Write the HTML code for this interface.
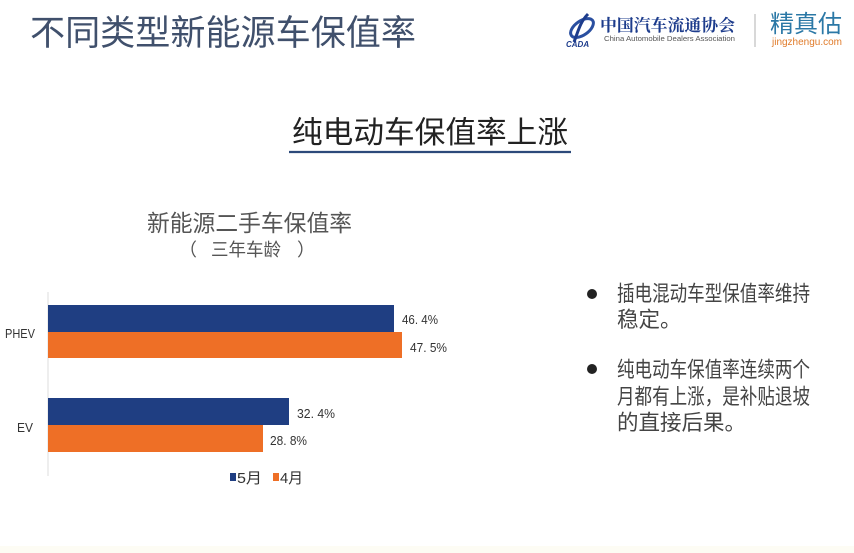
<!DOCTYPE html>
<html>
<head>
<meta charset="utf-8">
<style>
  html, body { margin:0; padding:0; background:#ffffff; }
  body { width:854px; height:553px; overflow:hidden; }
  svg { display:block; }
  .cjk { font-family: "Liberation Sans", "Noto Sans CJK SC", sans-serif; }
</style>
</head>
<body>
<svg width="854" height="553" viewBox="0 0 854 553" xmlns="http://www.w3.org/2000/svg">
  <rect x="0" y="0" width="854" height="553" fill="#ffffff"/>

  <!-- Main title -->
  <text x="30" y="45" class="cjk" font-size="35" fill="#40506c" textLength="386" lengthAdjust="spacingAndGlyphs">不同类型新能源车保值率</text>

  <!-- Logo: CADA -->
  <g>
    <ellipse cx="582" cy="28" rx="13" ry="7" fill="none" stroke="#2a4fa0" stroke-width="3" transform="rotate(-35 582 28)"/>
    <path d="M588 14 C 580 22, 578 32, 574 42" fill="none" stroke="#1d3c8c" stroke-width="3"/>
    <text x="566" y="47" font-family="Liberation Sans, sans-serif" font-size="8" font-style="italic" font-weight="bold" fill="#1d3c8c">CADA</text>
  </g>
  <text x="600" y="31" font-family="'Liberation Serif', 'Noto Serif CJK SC', serif" font-size="16.5" font-weight="bold" fill="#1d3c8c" textLength="135" lengthAdjust="spacingAndGlyphs">中国汽车流通协会</text>
  <text x="604" y="41" font-family="Liberation Sans, sans-serif" font-size="7" fill="#555" textLength="131" lengthAdjust="spacingAndGlyphs">China Automobile Dealers Association</text>
  <line x1="755" y1="14" x2="755" y2="47" stroke="#bdbdbd" stroke-width="1.2"/>
  <text x="770" y="32" class="cjk" font-size="24" fill="#2b78a6" textLength="72" lengthAdjust="spacingAndGlyphs">精真估</text>
  <text x="772" y="45" font-family="Liberation Sans, sans-serif" font-size="10" fill="#e07b2a" textLength="70" lengthAdjust="spacingAndGlyphs">jingzhengu.com</text>

  <!-- Subtitle -->
  <text x="292" y="143" class="cjk" font-size="30.5" fill="#222" textLength="276" lengthAdjust="spacingAndGlyphs">纯电动车保值率上涨</text>
  <line x1="289" y1="152" x2="571" y2="152" stroke="#2c4a7a" stroke-width="2.2"/>

  <!-- Chart title -->
  <text x="147" y="231" class="cjk" font-size="23" fill="#555" textLength="205" lengthAdjust="spacingAndGlyphs">新能源二手车保值率</text>
  <g class="cjk" font-size="18" fill="#555">
    <text x="179" y="256">（</text>
    <text x="211" y="256" textLength="70" lengthAdjust="spacingAndGlyphs">三年车龄</text>
    <text x="297" y="256">）</text>
  </g>

  <!-- Axis -->
  <line x1="48" y1="292" x2="48" y2="476" stroke="#dcdcdc" stroke-width="1"/>

  <!-- Bars -->
  <rect x="48" y="305" width="346" height="27" fill="#1f3e82"/>
  <rect x="48" y="332" width="354" height="26" fill="#ee6f26"/>
  <rect x="48" y="398" width="241" height="27" fill="#1f3e82"/>
  <rect x="48" y="425" width="215" height="27" fill="#ee6f26"/>

  <!-- Data labels -->
  <g font-family="Liberation Sans, sans-serif" font-size="13" fill="#333">
    <text x="402" y="324" textLength="36" lengthAdjust="spacingAndGlyphs">46. 4%</text>
    <text x="410" y="352" textLength="37" lengthAdjust="spacingAndGlyphs">47. 5%</text>
    <text x="297" y="418" textLength="38" lengthAdjust="spacingAndGlyphs">32. 4%</text>
    <text x="270" y="445" textLength="37" lengthAdjust="spacingAndGlyphs">28. 8%</text>
  </g>

  <!-- Category labels -->
  <g font-family="Liberation Sans, sans-serif" font-size="13" fill="#333">
    <text x="5" y="338" textLength="30" lengthAdjust="spacingAndGlyphs">PHEV</text>
    <text x="17" y="432" textLength="16" lengthAdjust="spacingAndGlyphs">EV</text>
  </g>

  <!-- Legend -->
  <rect x="230" y="473" width="6" height="8" fill="#1f3e82"/>
  <text x="237" y="483" class="cjk" font-size="15" fill="#333" textLength="25" lengthAdjust="spacingAndGlyphs">5月</text>
  <rect x="273" y="473" width="6" height="8" fill="#ee6f26"/>
  <text x="280" y="483" class="cjk" font-size="15" fill="#333" textLength="23" lengthAdjust="spacingAndGlyphs">4月</text>

  <!-- Right bullets -->
  <circle cx="592" cy="294" r="5" fill="#222"/>
  <g class="cjk" font-size="21.5" fill="#444">
    <text x="617" y="301" textLength="193" lengthAdjust="spacingAndGlyphs">插电混动车型保值率维持</text>
    <text x="617" y="327">稳定。</text>
  </g>
  <circle cx="592" cy="369" r="5" fill="#222"/>
  <g class="cjk" font-size="21.5" fill="#444">
    <text x="617" y="377" textLength="193" lengthAdjust="spacingAndGlyphs">纯电动车保值率连续两个</text>
    <text x="617" y="404" textLength="193" lengthAdjust="spacingAndGlyphs">月都有上涨，是补贴退坡</text>
    <text x="617" y="430">的直接后果。</text>
  </g>

  <!-- faint bottom tint -->
  <rect x="0" y="546" width="854" height="7" fill="#fdfcf4"/>
</svg>
</body>
</html>
